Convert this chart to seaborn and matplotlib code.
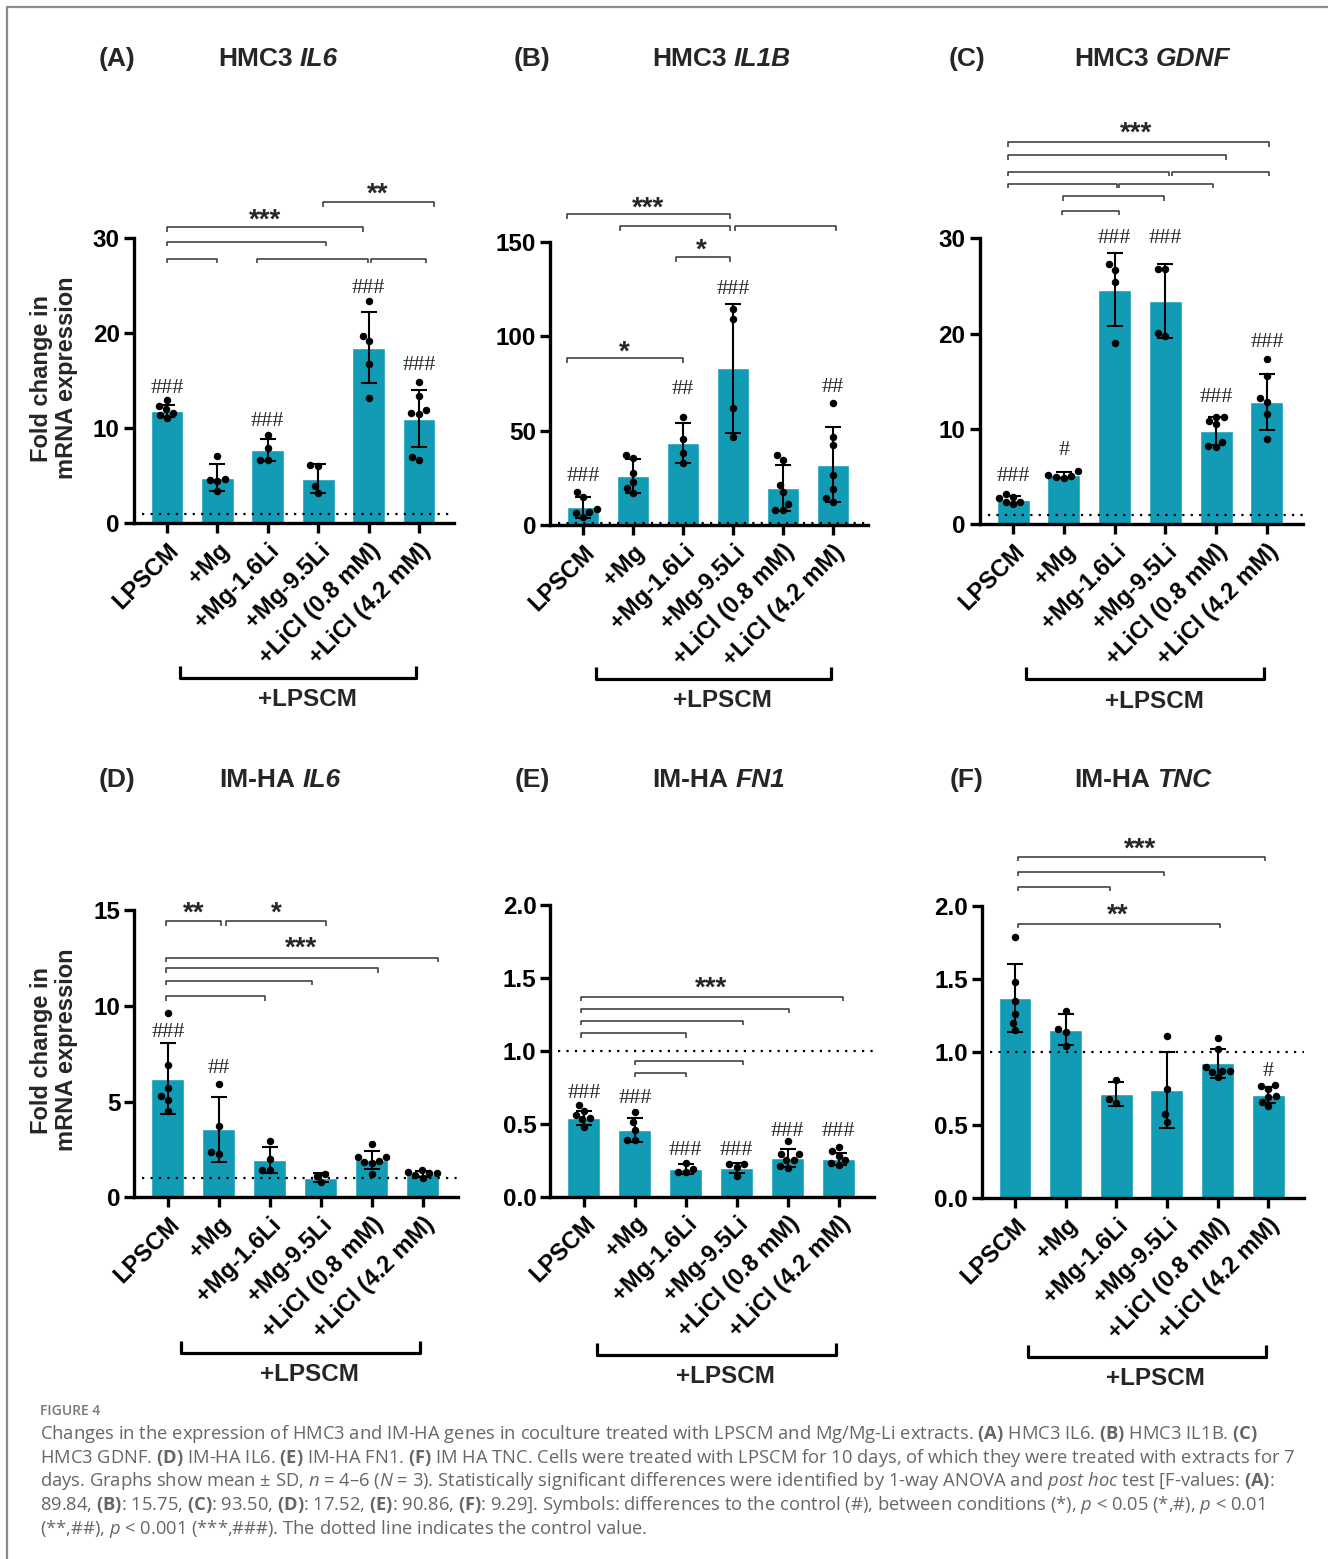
import numpy as np
import pandas as pd
import matplotlib
matplotlib.use("Agg")
import matplotlib.pyplot as plt
import matplotlib.transforms as mtransforms
from matplotlib.lines import Line2D
from matplotlib.text import Annotation
import seaborn as sns

# ---------------------------------------------------------------- data
CATEGORIES = ["LPSCM", "+Mg", "+Mg-1.6Li", "+Mg-9.5Li", "+LiCl (0.8 mM)", "+LiCl (4.2 mM)"]

# (A) HMC3 IL6
mean_A = [11.8, 4.8, 7.7, 4.7, 18.45, 11.0]
sd_A = [0.65, 1.4, 1.2, 1.5, 3.75, 3.0]
pts_A = [[12.9, 12.0, 11.1, 11.6, 12.3, 11.4],
         [7.1, 4.7, 4.4, 4.6, 3.4],
         [9.3, 7.9, 6.7, 6.7],
         [6.0, 6.1, 3.9, 3.2],
         [23.4, 19.7, 19.1, 16.7, 13.2],
         [14.8, 13.4, 11.6, 11.9, 11.5, 6.7, 7.0]]

# (B) HMC3 IL1B
mean_B = [9.4, 26.0, 43.2, 82.9, 19.6, 32.0]
sd_B = [5.5, 8.9, 10.6, 34.0, 12.0, 19.7]
pts_B = [[17.6, 15.0, 8.3, 6.7, 6.2, 4.4],
         [37.1, 35.3, 27.4, 22.9, 19.4, 17.1],
         [57.0, 45.4, 37.9, 32.6],
         [114.3, 108.9, 61.8, 46.4],
         [37.1, 34.4, 21.2, 17.6, 11.1, 7.9, 7.9],
         [64.4, 46.8, 42.4, 26.5, 18.9, 14.1, 12.4]]

# (C) HMC3 GDNF
mean_C = [2.58, 5.17, 24.6, 23.4, 9.8, 12.8]
sd_C = [0.38, 0.28, 3.85, 3.9, 1.45, 2.95]
pts_C = [[3.2, 2.9, 2.8, 2.35, 2.35, 2.1],
         [5.6, 5.2, 5.1, 5.0, 4.9],
         [27.3, 26.7, 25.4, 19.0],
         [26.8, 26.8, 20.1, 19.75],
         [11.3, 11.3, 10.8, 10.5, 8.6, 8.25, 8.1],
         [17.3, 15.6, 13.2, 12.8, 11.6, 8.9]]

# (D) IM-HA IL6
mean_D = [6.19, 3.54, 1.95, 1.02, 1.97, 1.22]
sd_D = [1.86, 1.68, 0.7, 0.24, 0.47, 0.15]
pts_D = [[9.6, 6.9, 5.7, 5.3, 5.1, 4.5],
         [5.9, 3.7, 2.35, 2.25],
         [2.95, 2.0, 1.45, 1.45],
         [1.22, 1.13, 0.78],
         [2.8, 2.12, 2.1, 1.9, 1.86, 1.77, 1.22],
         [1.43, 1.34, 1.25, 1.25, 1.17, 1.03]]

# (E) IM-HA FN1
mean_E = [0.54, 0.46, 0.19, 0.197, 0.266, 0.26]
sd_E = [0.05, 0.083, 0.032, 0.037, 0.06, 0.042]
pts_E = [[0.63, 0.59, 0.56, 0.54, 0.53, 0.48],
         [0.58, 0.51, 0.46, 0.39, 0.39],
         [0.23, 0.19, 0.17, 0.17],
         [0.225, 0.225, 0.205, 0.14],
         [0.38, 0.29, 0.29, 0.25, 0.25, 0.21, 0.20],
         [0.34, 0.31, 0.28, 0.25, 0.23, 0.22]]

# (F) IM-HA TNC
mean_F = [1.37, 1.154, 0.713, 0.739, 0.924, 0.707]
sd_F = [0.232, 0.105, 0.081, 0.26, 0.098, 0.057]
pts_F = [[1.79, 1.48, 1.35, 1.26, 1.20, 1.15],
         [1.28, 1.16, 1.14, 1.04],
         [0.81, 0.68, 0.655],
         [1.11, 0.75, 0.575, 0.525],
         [1.10, 1.02, 0.90, 0.873, 0.873, 0.867, 0.83],
         [0.775, 0.771, 0.746, 0.70, 0.691, 0.661, 0.632]]

# significance vs. control: (category, symbol, height)
hash_A = [(0, "###", 14.5), (2, "###", 11.0), (4, "###", 25.0), (5, "###", 16.9)]
hash_B = [(0, "###", 27.4), (2, "##", 73.2), (3, "###", 126.2), (5, "##", 74.1)]
hash_C = [(0, "###", 5.3), (1, "#", 8.0), (2, "###", 30.3), (3, "###", 30.3),
          (4, "###", 13.6), (5, "###", 19.4)]
hash_D = [(0, "###", 8.73), (1, "##", 6.9)]
hash_E = [(0, "###", 0.727), (1, "###", 0.69), (2, "###", 0.338), (3, "###", 0.338),
          (4, "###", 0.469), (5, "###", 0.469)]
hash_F = [(5, "#", 0.889)]

# comparisons between conditions: brackets (start, end, height) and star labels
brackets_A = [(0, 1.0, 27.8), (1.78, 3.98, 27.8), (4.05, 5.15, 27.8),
              (0, 3.15, 29.6), (0, 3.9, 31.1), (3.1, 5.3, 33.7)]
stars_A = [(1.94, 32.7, "***"), (4.19, 35.5, "**")]
brackets_B = [(-0.32, 2.93, 164.5), (0.73, 2.93, 158.3), (3.03, 5.05, 158.3),
              (1.85, 2.93, 141.7), (-0.32, 2.0, 88.2)]
stars_B = [(1.3, 172.0, "***"), (2.37, 150.0, "*"), (0.83, 96.2, "*")]
brackets_C = [(-0.1, 5.05, 40.1), (-0.1, 4.2, 38.7), (-0.1, 3.08, 37.0), (3.14, 5.05, 37.0),
              (-0.1, 2.05, 35.7), (2.09, 3.93, 35.7), (0.99, 2.97, 34.4), (0.97, 2.09, 32.9)]
stars_C = [(2.43, 41.9, "***")]
brackets_D = [(-0.03, 1.05, 14.4), (1.14, 3.1, 14.4), (-0.03, 5.3, 12.5),
              (-0.03, 4.12, 11.95), (-0.03, 2.83, 11.3), (-0.03, 1.9, 10.5)]
stars_D = [(0.5, 15.3, "**"), (2.12, 15.3, "*"), (2.61, 13.43, "***")]
brackets_E = [(-0.05, 5.09, 1.371), (-0.05, 4.03, 1.287), (-0.05, 3.12, 1.207),
              (-0.05, 2.01, 1.12), (1.0, 3.12, 0.933), (1.0, 2.0, 0.85)]
stars_E = [(2.5, 1.486, "***")]
brackets_F = [(0.05, 4.93, 2.337), (0.05, 2.95, 2.235), (0.05, 1.88, 2.132), (0.05, 4.04, 1.877)]
stars_F = [(2.47, 2.45, "***"), (2.03, 1.995, "**")]

titles = [("(A)", "HMC3", "IL6"), ("(B)", "HMC3", "IL1B"), ("(C)", "HMC3", "GDNF"),
          ("(D)", "IM-HA", "IL6"), ("(E)", "IM-HA", "FN1"), ("(F)", "IM-HA", "TNC")]
y_limits = [(0, 30), (0, 150), (0, 30), (0, 15), (0, 2.0), (0, 2.0)]
y_ticks = [[0, 10, 20, 30], [0, 50, 100, 150], [0, 10, 20, 30],
           [0, 5, 10, 15], [0.0, 0.5, 1.0, 1.5, 2.0], [0.0, 0.5, 1.0, 1.5, 2.0]]
y_ticklabels = [["0", "10", "20", "30"], ["0", "50", "100", "150"], ["0", "10", "20", "30"],
                ["0", "5", "10", "15"], ["0.0", "0.5", "1.0", "1.5", "2.0"],
                ["0.0", "0.5", "1.0", "1.5", "2.0"]]
CONTROL_LEVEL = 1.0
GROUP_LABEL = "+LPSCM"
Y_LABEL = "Fold change in\nmRNA expression"

caption_head = "FIGURE 4"
caption_lines = [
    r"Changes in the expression of HMC3 and IM-HA genes in coculture treated with LPSCM and Mg/Mg-Li extracts. "
    r"$\mathbf{(A)}$ HMC3 IL6. $\mathbf{(B)}$ HMC3 IL1B. $\mathbf{(C)}$",
    r"HMC3 GDNF. $\mathbf{(D)}$ IM-HA IL6. $\mathbf{(E)}$ IM-HA FN1. $\mathbf{(F)}$ IM HA TNC. "
    r"Cells were treated with LPSCM for 10 days, of which they were treated with extracts for 7",
    r"days. Graphs show mean ± SD, $\mathit{n}$ = 4–6 ($\mathit{N}$ = 3). Statistically significant "
    r"differences were identified by 1-way ANOVA and $\mathit{post\ hoc}$ test [F-values: $\mathbf{(A)}$:",
    r"89.84, $\mathbf{(B)}$: 15.75, $\mathbf{(C)}$: 93.50, $\mathbf{(D)}$: 17.52, $\mathbf{(E)}$: 90.86, "
    r"$\mathbf{(F)}$: 9.29]. Symbols: differences to the control (#), between conditions (*), "
    r"$\mathit{p}$ < 0.05 (*,#), $\mathit{p}$ < 0.01",
    r"(**,##), $\mathit{p}$ < 0.001 (***,###). The dotted line indicates the control value.",
]

# ---------------------------------------------------------------- style
sns.set_theme(style="ticks")
plt.rcParams["font.family"] = ["Liberation Sans", "DejaVu Sans"]
plt.rcParams["mathtext.fontset"] = "custom"
plt.rcParams["mathtext.rm"] = "Open Sans"
plt.rcParams["mathtext.it"] = "Open Sans:italic"
plt.rcParams["mathtext.bf"] = "Open Sans:bold"

BAR_COLOR = "#129bb5"
W, H = 1328, 1559
fig = plt.figure(figsize=(W / 100, H / 100), dpi=100)
fig.patch.set_facecolor("white")


def rect(left, top, width, height):
    return [left / W, 1 - (top + height) / H, width / W, height / H]


# axes boxes in pixels: left, top, width, height
boxes = [(133.7, 237.7, 320.5, 285.6), (550.0, 241.7, 318.0, 283.3), (979.5, 238.3, 323.0, 286.0),
         (134.3, 910.0, 324.0, 287.3), (550.3, 905.0, 324.0, 291.7), (981.6, 906.0, 322.0, 292.3)]
title_pos = [(117, 218, 59), (532, 652, 59), (967, 1074, 59),
             (117, 219, 780), (532, 652, 780), (967, 1074, 780)]

panels = [
    (mean_A, sd_A, pts_A, hash_A, brackets_A, stars_A),
    (mean_B, sd_B, pts_B, hash_B, brackets_B, stars_B),
    (mean_C, sd_C, pts_C, hash_C, brackets_C, stars_C),
    (mean_D, sd_D, pts_D, hash_D, brackets_D, stars_D),
    (mean_E, sd_E, pts_E, hash_E, brackets_E, stars_E),
    (mean_F, sd_F, pts_F, hash_F, brackets_F, stars_F),
]

for i, (means, sds, pts, hashes, brackets, stars) in enumerate(panels):
    box = boxes[i]
    ax = fig.add_axes(rect(*box))
    ax.set_facecolor("none")

    bars = pd.DataFrame({"condition": CATEGORIES, "mean": means})
    sns.barplot(data=bars, x="condition", y="mean", order=CATEGORIES, color=BAR_COLOR,
                saturation=1, width=0.65, errorbar=None, ax=ax, zorder=1)
    ax.errorbar(np.arange(len(CATEGORIES)), means, yerr=sds, fmt="none", ecolor="black",
                elinewidth=1.5, capsize=5.5, capthick=1.5, zorder=3)
    dots = pd.DataFrame([(c, v) for c, vals in zip(CATEGORIES, pts) for v in vals],
                        columns=["condition", "value"])
    sns.swarmplot(data=dots, x="condition", y="value", order=CATEGORIES, color="black",
                  size=5.4, linewidth=0, ax=ax, zorder=4)

    ax.axhline(CONTROL_LEVEL, xmin=0.025, xmax=1.0, color="black", lw=1.6,
               ls=(0, (1, 2.8)), zorder=2.5)

    ymin, ymax = y_limits[i]
    ax.set_xlim(-0.66, 5.7)
    ax.set_ylim(ymin, ymax)
    ax.set_yticks(y_ticks[i])
    ax.set_yticklabels(y_ticklabels[i], fontsize=17.5, fontweight="bold")
    ax.set_xticks(np.arange(len(CATEGORIES)))
    ax.set_xticklabels(CATEGORIES, rotation=45, ha="right", va="top",
                       rotation_mode="anchor", fontsize=17, fontweight="bold")
    ax.set_xlabel("")
    ax.set_ylabel("")
    for s in ("top", "right"):
        ax.spines[s].set_visible(False)
    for s in ("left", "bottom"):
        ax.spines[s].set_linewidth(2.4)
        ax.spines[s].set_color("black")
    ax.tick_params(axis="both", width=2.4, length=7, color="black", labelcolor="black")
    ax.tick_params(axis="x", pad=4)
    ax.tick_params(axis="y", pad=3)

    # control comparisons
    for cat, sym, yv in hashes:
        ax.annotate(sym, xy=(cat, yv), xytext=(0, -5.3), textcoords="offset points",
                    ha="center", va="baseline", fontsize=16, fontweight="normal",
                    fontfamily=["Liberation Serif", "DejaVu Serif"], annotation_clip=False,
                    zorder=5)

    # pairwise comparisons
    tick = 4.5 * (ymax - ymin) / box[3]
    for x0, x1, yv in brackets:
        ax.plot([x0, x0, x1, x1], [yv - tick, yv, yv, yv - tick], color="#333333",
                lw=1.1, clip_on=False, solid_capstyle="butt", zorder=5)
    for xv, yv, sym in stars:
        ax.annotate(sym, xy=(xv, yv), xytext=(0, -11.5), textcoords="offset points",
                    ha="center", va="baseline", fontsize=20, fontweight="bold",
                    annotation_clip=False, zorder=5)

    # treatment group bracket under the tick labels
    trans = mtransforms.blended_transform_factory(ax.transData, ax.transAxes)
    gy = -0.542
    gt = 12 / box[3]
    ax.plot([0.26, 0.26, 4.95, 4.95], [gy + gt, gy, gy, gy + gt], transform=trans,
            color="black", lw=2.3, clip_on=False, solid_capstyle="butt")
    ax.text(2.78, gy - 0.076, GROUP_LABEL, transform=trans, ha="center", va="center",
            fontsize=17.5, fontweight="bold")

    # panel title: letter, cell line and italic gene name
    letter, cell, gene = titles[i]
    lx, tx, ty = title_pos[i]
    fig.text(lx / W, 1 - ty / H, letter, ha="center", va="center", fontsize=19,
             fontweight="bold")
    t1 = fig.text(tx / W, 1 - ty / H, cell, ha="left", va="center", fontsize=19,
                  fontweight="bold")
    fig.add_artist(Annotation(
        gene, xy=(1, 0), xycoords=t1, xytext=(5.3, 0), textcoords="offset points",
        ha="left", va="bottom", fontsize=19, fontweight="bold", fontstyle="italic"))

# y-axis titles for each row
for yc in (378, 1050):
    fig.text(54 / W, 1 - yc / H, Y_LABEL, rotation=90, ha="center", va="center",
             ma="center", fontsize=17, fontweight="bold", linespacing=1.15)

# caption
fig.text(40 / W, 1 - 1415 / H, caption_head, ha="left", va="baseline", fontsize=10,
         fontweight="semibold", color="#777777", fontfamily=["Open Sans", "DejaVu Sans"])
for k, line in enumerate(caption_lines):
    fig.text(40 / W, 1 - (1439 + 23.7 * k) / H, line, ha="left", va="baseline",
             fontsize=13.2, fontweight="normal", color="#666666",
             fontfamily=["Open Sans", "DejaVu Sans"])

# outer frame
fig.add_artist(Line2D([7 / W, 7 / W], [0, 1 - 7 / H], transform=fig.transFigure,
                      color="#8c8c8c", lw=1.6))
fig.add_artist(Line2D([7 / W, 1], [1 - 7 / H, 1 - 7 / H], transform=fig.transFigure,
                      color="#8c8c8c", lw=1.6))

fig.savefig("out.png", dpi=100, facecolor="white")
